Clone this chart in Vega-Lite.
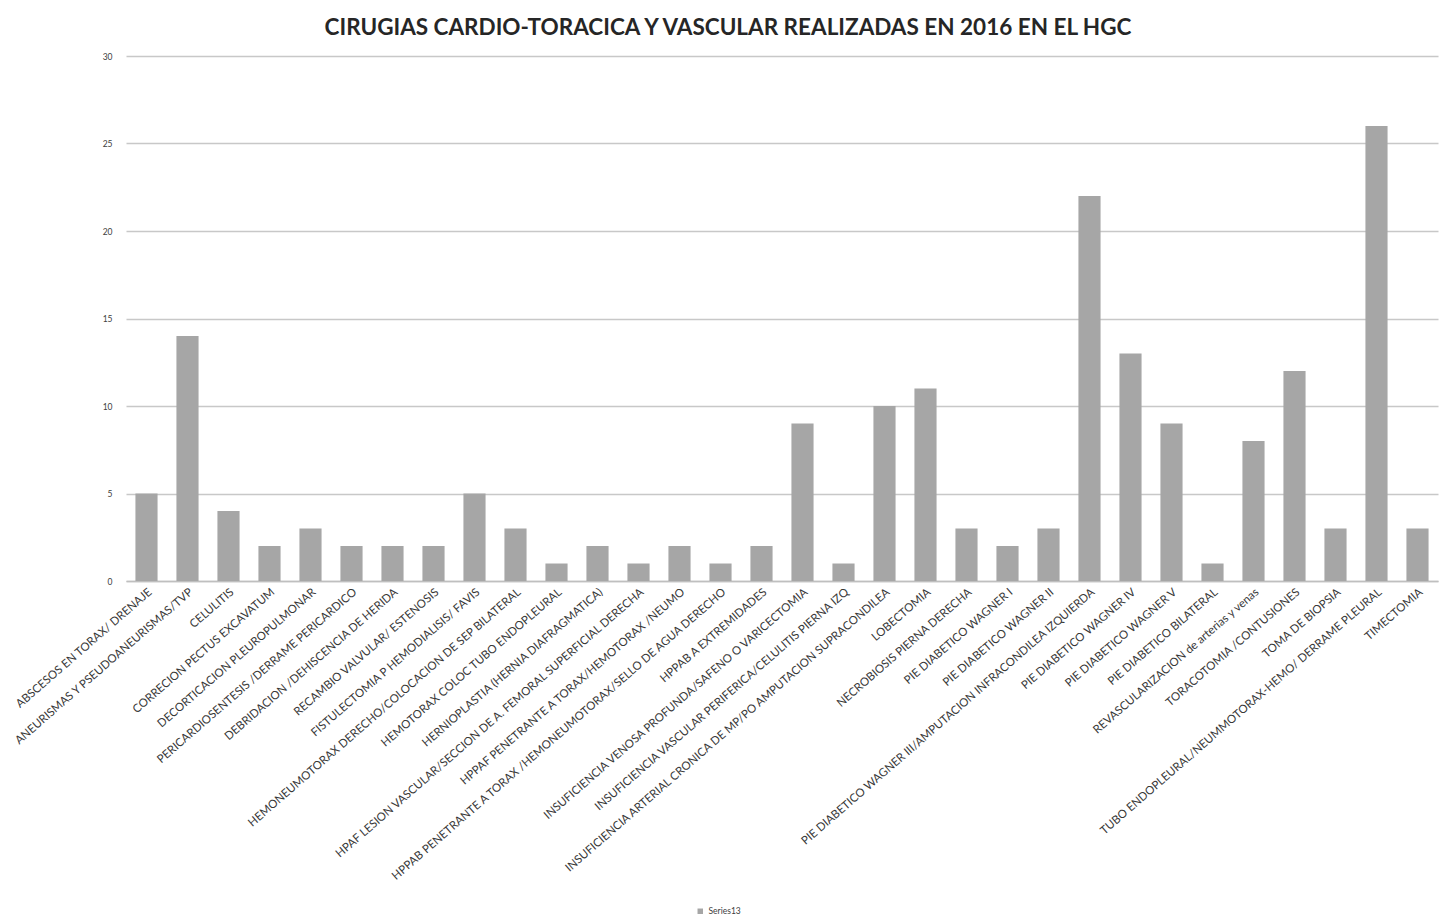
{
  "$schema": "https://vega.github.io/schema/vega-lite/v6.json",
  "autosize": {"type": "none"},
  "width": 1312,
  "height": 525,
  "padding": {"left": 126, "top": 56, "right": 9, "bottom": 343},
  "background": "#ffffff",
  "config": {"view": {"stroke": null}, "font": "Lato"},
  "title": {
    "text": "CIRUGIAS  CARDIO-TORACICA Y VASCULAR REALIZADAS EN 2016 EN EL HGC",
    "fontSize": 22.5,
    "fontWeight": "bold",
    "color": "#262626",
    "anchor": "middle",
    "dx": -54,
    "offset": 13,
    "font": "Lato"
  },
  "data": {
    "values": [
      {"procedimiento": "ABSCESOS EN TORAX/ DRENAJE", "cirugias": 5, "serie": "Series13"},
      {"procedimiento": "ANEURISMAS Y PSEUDOANEURISMAS/TVP", "cirugias": 14, "serie": "Series13"},
      {"procedimiento": "CELULITIS", "cirugias": 4, "serie": "Series13"},
      {"procedimiento": "CORRECION PECTUS EXCAVATUM", "cirugias": 2, "serie": "Series13"},
      {"procedimiento": "DECORTICACION PLEUROPULMONAR", "cirugias": 3, "serie": "Series13"},
      {"procedimiento": "PERICARDIOSENTESIS  /DERRAME PERICARDICO", "cirugias": 2, "serie": "Series13"},
      {"procedimiento": "DEBRIDACION /DEHISCENCIA  DE HERIDA", "cirugias": 2, "serie": "Series13"},
      {"procedimiento": "RECAMBIO VALVULAR/ ESTENOSIS", "cirugias": 2, "serie": "Series13"},
      {"procedimiento": "FISTULECTOMIA P HEMODIALISIS/  FAVIS", "cirugias": 5, "serie": "Series13"},
      {"procedimiento": "HEMONEUMOTORAX  DERECHO/COLOCACION DE SEP BILATERAL", "cirugias": 3, "serie": "Series13"},
      {"procedimiento": "HEMOTORAX COLOC TUBO ENDOPLEURAL", "cirugias": 1, "serie": "Series13"},
      {"procedimiento": "HERNIOPLASTIA (HERNIA  DIAFRAGMATICA)", "cirugias": 2, "serie": "Series13"},
      {"procedimiento": "HPAF LESION VASCULAR/SECCION  DE A. FEMORAL SUPERFICIAL DERECHA", "cirugias": 1, "serie": "Series13"},
      {"procedimiento": "HPPAF PENETRANTE  A TORAX/HEMOTORAX  /NEUMO", "cirugias": 2, "serie": "Series13"},
      {"procedimiento": "HPPAB PENETRANTE  A TORAX  /HEMONEUMOTORAX/SELLO  DE AGUA DERECHO", "cirugias": 1, "serie": "Series13"},
      {"procedimiento": "HPPAB A EXTREMIDADES", "cirugias": 2, "serie": "Series13"},
      {"procedimiento": "INSUFICIENCIA  VENOSA PROFUNDA/SAFENO  O VARICECTOMIA", "cirugias": 9, "serie": "Series13"},
      {"procedimiento": "INSUFICIENCIA  VASCULAR PERIFERICA/CELULITIS  PIERNA IZQ", "cirugias": 1, "serie": "Series13"},
      {"procedimiento": "INSUFICIENCIA  ARTERIAL CRONICA DE MP/PO AMPUTACION SUPRACONDILEA", "cirugias": 10, "serie": "Series13"},
      {"procedimiento": "LOBECTOMIA", "cirugias": 11, "serie": "Series13"},
      {"procedimiento": "NECROBIOSIS PIERNA  DERECHA", "cirugias": 3, "serie": "Series13"},
      {"procedimiento": "PIE DIABETICO  WAGNER I", "cirugias": 2, "serie": "Series13"},
      {"procedimiento": "PIE DIABETICO  WAGNER II", "cirugias": 3, "serie": "Series13"},
      {"procedimiento": "PIE DIABETICO  WAGNER III/AMPUTACION  INFRACONDILEA  IZQUIERDA", "cirugias": 22, "serie": "Series13"},
      {"procedimiento": "PIE DIABETICO  WAGNER IV", "cirugias": 13, "serie": "Series13"},
      {"procedimiento": "PIE DIABETICO  WAGNER V", "cirugias": 9, "serie": "Series13"},
      {"procedimiento": "PIE DIABETICO  BILATERAL", "cirugias": 1, "serie": "Series13"},
      {"procedimiento": "REVASCULARIZACION  de arterias y venas", "cirugias": 8, "serie": "Series13"},
      {"procedimiento": "TORACOTOMIA /CONTUSIONES", "cirugias": 12, "serie": "Series13"},
      {"procedimiento": "TOMA DE BIOPSIA", "cirugias": 3, "serie": "Series13"},
      {"procedimiento": "TUBO ENDOPLEURAL/NEUMMOTORAX-HEMO/  DERRAME PLEURAL", "cirugias": 26, "serie": "Series13"},
      {"procedimiento": "TIMECTOMIA", "cirugias": 3, "serie": "Series13"}
    ]
  },
  "mark": {"type": "bar"},
  "encoding": {
    "x": {
      "field": "procedimiento",
      "type": "nominal",
      "sort": null,
      "scale": {"paddingInner": 0.46, "paddingOuter": 0.23},
      "axis": {
        "title": null,
        "labelAngle": -41,
        "labelFontSize": 11.5,
        "labelColor": "#383838",
        "labelLimit": 0,
        "labelPadding": 5,
        "ticks": false,
        "domainColor": "#bfbfbf",
        "domainWidth": 1.5
      }
    },
    "y": {
      "field": "cirugias",
      "type": "quantitative",
      "scale": {"domain": [0, 30]},
      "axis": {
        "title": null,
        "values": [0, 5, 10, 15, 20, 25, 30],
        "labelFontSize": 8.5,
        "labelColor": "#404040",
        "labelPadding": 14,
        "domain": false,
        "ticks": false,
        "gridColor": "#c8c8c8",
        "gridWidth": 1.5
      }
    },
    "color": {
      "field": "serie",
      "type": "nominal",
      "scale": {"range": ["#a6a6a6"]},
      "legend": {
        "title": null,
        "orient": "none",
        "legendX": 570,
        "legendY": 851,
        "symbolType": "square",
        "symbolSize": 30,
        "labelFontSize": 8.5,
        "labelColor": "#404040"
      }
    }
  }
}
